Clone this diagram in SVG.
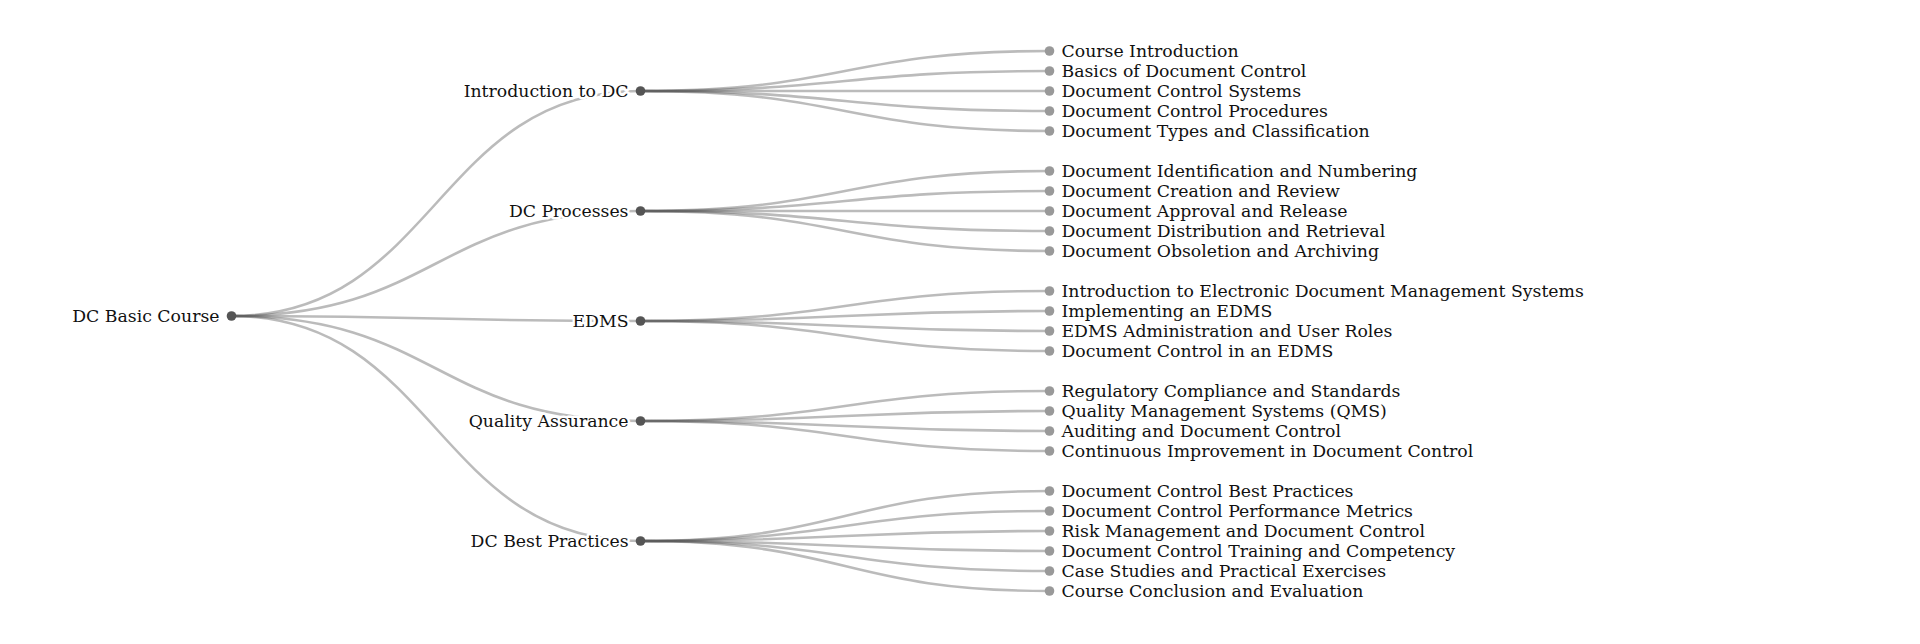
<svg xmlns="http://www.w3.org/2000/svg" width="1920" height="644" viewBox="0 0 1920 644">
  <style>
    .links path { fill: none; stroke: #555; stroke-opacity: 0.4; stroke-width: 2.6; }
    .branch circle { fill: #555; }
    .leaf circle { fill: #999; }
    text { font-family: "DejaVu Serif", "Liberation Serif", serif; font-size: 17.3px; fill: #111;
           stroke: #fff; stroke-width: 5; stroke-linejoin: round; paint-order: stroke; }
    .branch text { text-anchor: end; }
    .leaf text { text-anchor: start; }
  </style>
  <rect width="1920" height="644" fill="#fff"/>

  <!-- connectors: horizontal cubic links, parent to child -->
  <g id="links" class="links">
    <path d="M231.5,316C436,316 436,91 640.5,91"/>
    <path d="M231.5,316C436,316 436,211 640.5,211"/>
    <path d="M231.5,316C436,316 436,321 640.5,321"/>
    <path d="M231.5,316C436,316 436,421 640.5,421"/>
    <path d="M231.5,316C436,316 436,541 640.5,541"/>

    <path d="M640.5,91C845,91 845,51 1049.5,51"/>
    <path d="M640.5,91C845,91 845,71 1049.5,71"/>
    <path d="M640.5,91C845,91 845,91 1049.5,91"/>
    <path d="M640.5,91C845,91 845,111 1049.5,111"/>
    <path d="M640.5,91C845,91 845,131 1049.5,131"/>

    <path d="M640.5,211C845,211 845,171 1049.5,171"/>
    <path d="M640.5,211C845,211 845,191 1049.5,191"/>
    <path d="M640.5,211C845,211 845,211 1049.5,211"/>
    <path d="M640.5,211C845,211 845,231 1049.5,231"/>
    <path d="M640.5,211C845,211 845,251 1049.5,251"/>

    <path d="M640.5,321C845,321 845,291 1049.5,291"/>
    <path d="M640.5,321C845,321 845,311 1049.5,311"/>
    <path d="M640.5,321C845,321 845,331 1049.5,331"/>
    <path d="M640.5,321C845,321 845,351 1049.5,351"/>

    <path d="M640.5,421C845,421 845,391 1049.5,391"/>
    <path d="M640.5,421C845,421 845,411 1049.5,411"/>
    <path d="M640.5,421C845,421 845,431 1049.5,431"/>
    <path d="M640.5,421C845,421 845,451 1049.5,451"/>

    <path d="M640.5,541C845,541 845,491 1049.5,491"/>
    <path d="M640.5,541C845,541 845,511 1049.5,511"/>
    <path d="M640.5,541C845,541 845,531 1049.5,531"/>
    <path d="M640.5,541C845,541 845,551 1049.5,551"/>
    <path d="M640.5,541C845,541 845,571 1049.5,571"/>
    <path d="M640.5,541C845,541 845,591 1049.5,591"/>
  </g>

  <!-- root -->
  <g id="node-root" class="branch">
    <circle cx="231.5" cy="316" r="4.8"/>
    <text x="219.5" y="321.5">DC Basic Course</text>
  </g>

  <!-- second level -->
  <g id="node-intro" class="branch">
    <circle cx="640.5" cy="91" r="4.8"/>
    <text x="628.5" y="96.5">Introduction to DC</text>
  </g>
  <g id="node-processes" class="branch">
    <circle cx="640.5" cy="211" r="4.8"/>
    <text x="628.5" y="216.5">DC Processes</text>
  </g>
  <g id="node-edms" class="branch">
    <circle cx="640.5" cy="321" r="4.8"/>
    <text x="628.5" y="326.5">EDMS</text>
  </g>
  <g id="node-qa" class="branch">
    <circle cx="640.5" cy="421" r="4.8"/>
    <text x="628.5" y="426.5">Quality Assurance</text>
  </g>
  <g id="node-best" class="branch">
    <circle cx="640.5" cy="541" r="4.8"/>
    <text x="628.5" y="546.5">DC Best Practices</text>
  </g>

  <!-- leaves: Introduction to DC -->
  <g id="leaf-1" class="leaf"><circle cx="1049.5" cy="51" r="4.8"/><text x="1061.5" y="56.5">Course Introduction</text></g>
  <g id="leaf-2" class="leaf"><circle cx="1049.5" cy="71" r="4.8"/><text x="1061.5" y="76.5">Basics of Document Control</text></g>
  <g id="leaf-3" class="leaf"><circle cx="1049.5" cy="91" r="4.8"/><text x="1061.5" y="96.5">Document Control Systems</text></g>
  <g id="leaf-4" class="leaf"><circle cx="1049.5" cy="111" r="4.8"/><text x="1061.5" y="116.5">Document Control Procedures</text></g>
  <g id="leaf-5" class="leaf"><circle cx="1049.5" cy="131" r="4.8"/><text x="1061.5" y="136.5">Document Types and Classification</text></g>

  <!-- leaves: DC Processes -->
  <g id="leaf-6" class="leaf"><circle cx="1049.5" cy="171" r="4.8"/><text x="1061.5" y="176.5">Document Identification and Numbering</text></g>
  <g id="leaf-7" class="leaf"><circle cx="1049.5" cy="191" r="4.8"/><text x="1061.5" y="196.5">Document Creation and Review</text></g>
  <g id="leaf-8" class="leaf"><circle cx="1049.5" cy="211" r="4.8"/><text x="1061.5" y="216.5">Document Approval and Release</text></g>
  <g id="leaf-9" class="leaf"><circle cx="1049.5" cy="231" r="4.8"/><text x="1061.5" y="236.5">Document Distribution and Retrieval</text></g>
  <g id="leaf-10" class="leaf"><circle cx="1049.5" cy="251" r="4.8"/><text x="1061.5" y="256.5">Document Obsoletion and Archiving</text></g>

  <!-- leaves: EDMS -->
  <g id="leaf-11" class="leaf"><circle cx="1049.5" cy="291" r="4.8"/><text x="1061.5" y="296.5">Introduction to Electronic Document Management Systems</text></g>
  <g id="leaf-12" class="leaf"><circle cx="1049.5" cy="311" r="4.8"/><text x="1061.5" y="316.5">Implementing an EDMS</text></g>
  <g id="leaf-13" class="leaf"><circle cx="1049.5" cy="331" r="4.8"/><text x="1061.5" y="336.5">EDMS Administration and User Roles</text></g>
  <g id="leaf-14" class="leaf"><circle cx="1049.5" cy="351" r="4.8"/><text x="1061.5" y="356.5">Document Control in an EDMS</text></g>

  <!-- leaves: Quality Assurance -->
  <g id="leaf-15" class="leaf"><circle cx="1049.5" cy="391" r="4.8"/><text x="1061.5" y="396.5">Regulatory Compliance and Standards</text></g>
  <g id="leaf-16" class="leaf"><circle cx="1049.5" cy="411" r="4.8"/><text x="1061.5" y="416.5">Quality Management Systems (QMS)</text></g>
  <g id="leaf-17" class="leaf"><circle cx="1049.5" cy="431" r="4.8"/><text x="1061.5" y="436.5">Auditing and Document Control</text></g>
  <g id="leaf-18" class="leaf"><circle cx="1049.5" cy="451" r="4.8"/><text x="1061.5" y="456.5">Continuous Improvement in Document Control</text></g>

  <!-- leaves: DC Best Practices -->
  <g id="leaf-19" class="leaf"><circle cx="1049.5" cy="491" r="4.8"/><text x="1061.5" y="496.5">Document Control Best Practices</text></g>
  <g id="leaf-20" class="leaf"><circle cx="1049.5" cy="511" r="4.8"/><text x="1061.5" y="516.5">Document Control Performance Metrics</text></g>
  <g id="leaf-21" class="leaf"><circle cx="1049.5" cy="531" r="4.8"/><text x="1061.5" y="536.5">Risk Management and Document Control</text></g>
  <g id="leaf-22" class="leaf"><circle cx="1049.5" cy="551" r="4.8"/><text x="1061.5" y="556.5">Document Control Training and Competency</text></g>
  <g id="leaf-23" class="leaf"><circle cx="1049.5" cy="571" r="4.8"/><text x="1061.5" y="576.5">Case Studies and Practical Exercises</text></g>
  <g id="leaf-24" class="leaf"><circle cx="1049.5" cy="591" r="4.8"/><text x="1061.5" y="596.5">Course Conclusion and Evaluation</text></g>
</svg>
